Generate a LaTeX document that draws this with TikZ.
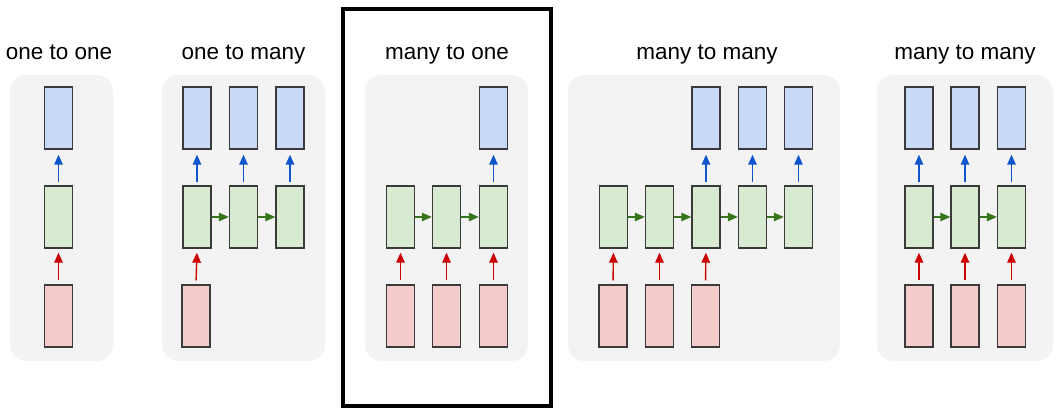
\documentclass[tikz,border=0pt]{standalone}
\usepackage{fontspec}
\setmainfont{Liberation Sans}
\usetikzlibrary{arrows.meta}
\definecolor{bgc}{HTML}{F3F3F3}
\definecolor{cellborder}{HTML}{3A3A3A}
\definecolor{inred}{HTML}{F4CCCC}
\definecolor{hgreen}{HTML}{D9EAD3}
\definecolor{outblue}{HTML}{C9DAF8}
\definecolor{arrred}{HTML}{CC0000}
\definecolor{arrgreen}{HTML}{38761D}
\definecolor{arrblue}{HTML}{1155CC}
\begin{document}
\begin{tikzpicture}[x=1pt,y=-1pt,
  cell/.style={draw=cellborder, line width=1.4pt, minimum width=28pt, minimum height=62pt, inner sep=0pt},
  inbox/.style={cell, fill=inred},
  hbox/.style={cell, fill=hgreen},
  outbox/.style={cell, fill=outblue},
  panel/.style={fill=bgc, rounded corners=16pt},
  title/.style={font=\fontsize{22.5}{27}\selectfont, inner sep=0pt, anchor=base},
  tipstyle/.style={-{Triangle[length=10pt,width=8.5pt]}},
  inarr/.style={draw=arrred, line width=1.4pt, tipstyle, shorten >=4pt, shorten <=4pt},
  outarr/.style={draw=arrblue, line width=1.4pt, tipstyle, shorten >=5pt, shorten <=3pt},
  recarr/.style={draw=arrgreen, line width=1.4pt, tipstyle},
  frame/.style={draw=black, line width=4pt}
]
\useasboundingbox (0,0) rectangle (1063,414);

% panel backgrounds
\fill[panel] (10,75) rectangle (113,361);
\fill[panel] (162,75) rectangle (325,361);
\fill[panel] (365,75) rectangle (528,361);
\fill[panel] (568,75) rectangle (840,361);
\fill[panel] (877,75) rectangle (1053,361);

% frame
\draw[frame] (343,9) rectangle (551,406);

% titles
\node[title] (t1) at (59,60) {one to one};
\node[title] (t2) at (243.5,60) {one to many};
\node[title] (t3) at (447,60) {many to one};
\node[title] (t4) at (707,60) {many to many};
\node[title] (t5) at (965,60) {many to many};

% panel 1: one to one
\node[outbox] (a-o1) at (58.5,118) {};
\node[hbox] (a-h1) at (58.5,217) {};
\node[inbox] (a-i1) at (58.5,316) {};
\draw[inarr] (a-i1.north) -- (a-h1.south);
\draw[outarr] (a-h1.north) -- (a-o1.south);

% panel 2: one to many
\foreach \i/\x in {1/197,2/243.5,3/290}{
  \node[outbox] (b-o\i) at (\x,118) {};
  \node[hbox] (b-h\i) at (\x,217) {};
  \draw[outarr] (b-h\i.north) -- (b-o\i.south);
}
\node[inbox] (b-i1) at (196,316) {};
\draw[inarr] (b-i1.north) -- (b-h1.south);
\draw[recarr] (b-h1.east) -- (b-h2.west);
\draw[recarr] (b-h2.east) -- (b-h3.west);

% panel 3: many to one
\foreach \i/\x in {1/400.5,2/446.5,3/493.5}{
  \node[hbox] (c-h\i) at (\x,217) {};
  \node[inbox] (c-i\i) at (\x,316) {};
  \draw[inarr] (c-i\i.north) -- (c-h\i.south);
}
\node[outbox] (c-o3) at (493.5,118) {};
\draw[outarr] (c-h3.north) -- (c-o3.south);
\draw[recarr] (c-h1.east) -- (c-h2.west);
\draw[recarr] (c-h2.east) -- (c-h3.west);

% panel 4: many to many (delayed)
\foreach \i/\x in {1/613.5,2/659.5,3/706,4/752.5,5/798.5}{
  \node[hbox] (d-h\i) at (\x,217) {};
}
\foreach \i/\x in {1/613,2/659.5,3/705.5}{
  \node[inbox] (d-i\i) at (\x,316) {};
  \draw[inarr] (d-i\i.north) -- (d-h\i.south);
}
\foreach \i/\x in {3/706,4/752.5,5/798.5}{
  \node[outbox] (d-o\i) at (\x,118) {};
  \draw[outarr] (d-h\i.north) -- (d-o\i.south);
}
\draw[recarr] (d-h1.east) -- (d-h2.west);
\draw[recarr] (d-h2.east) -- (d-h3.west);
\draw[recarr] (d-h3.east) -- (d-h4.west);
\draw[recarr] (d-h4.east) -- (d-h5.west);

% panel 5: many to many (synced)
\foreach \i/\x in {1/919,2/965,3/1011.5}{
  \node[outbox] (e-o\i) at (\x,118) {};
  \node[hbox] (e-h\i) at (\x,217) {};
  \node[inbox] (e-i\i) at (\x,316) {};
  \draw[inarr] (e-i\i.north) -- (e-h\i.south);
  \draw[outarr] (e-h\i.north) -- (e-o\i.south);
}
\draw[recarr] (e-h1.east) -- (e-h2.west);
\draw[recarr] (e-h2.east) -- (e-h3.west);
\end{tikzpicture}
\end{document}
